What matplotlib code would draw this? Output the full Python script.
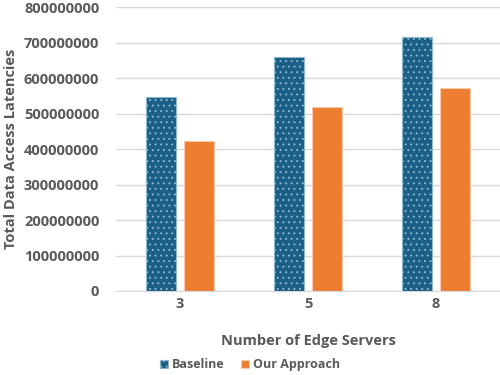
import matplotlib.pyplot as plt
import numpy as np

plt.rcParams['font.family'] = ['Open Sans', 'DejaVu Sans']
plt.rcParams['hatch.linewidth'] = 0.7

servers = ['3', '5', '8']
baseline = [546000000, 659000000, 715000000]
ours = [422000000, 519000000, 572000000]

grey = '#595959'
x = np.arange(len(servers))
w = 0.234

fig = plt.figure(figsize=(5, 3.75), dpi=100)
ax = fig.add_axes([0.232, 0.224, 0.768, 0.757])

ax.bar(x - 0.145, baseline, w, color='#1C5F86', edgecolor='#8DB6CF',
       linewidth=0.8, hatch='...', label='Baseline', zorder=3)
ax.bar(x + 0.145, ours, w, color='#ED7D31', edgecolor='#F8C9A8',
       linewidth=0.8, label='Our Approach', zorder=3)

ax.set_xlim(-0.5, 2.5)
ax.set_ylim(0, 800000000)
ax.set_yticks(np.arange(0, 800000001, 100000000))
ax.set_yticklabels([str(v) for v in range(0, 800000001, 100000000)])
ax.set_xticks(x)
ax.set_xticklabels(servers)
ax.yaxis.grid(True, color='#D9D9D9', linewidth=1, zorder=0)
ax.set_axisbelow(True)
for s in ['top', 'right', 'left']:
    ax.spines[s].set_visible(False)
ax.spines['bottom'].set_color('#D9D9D9')
ax.tick_params(length=0, labelsize=10.5, labelcolor=grey)
ax.tick_params(axis='y', pad=12)
ax.tick_params(axis='x', pad=4)
for lab in ax.get_xticklabels() + ax.get_yticklabels():
    lab.set_fontweight('bold')

ax.set_xlabel('Number of Edge Servers', fontsize=10.5, color=grey,
              fontweight='bold', labelpad=17)
ax.set_ylabel('Total Data Access Latencies', fontsize=10.5, color=grey,
              fontweight='bold', labelpad=4)

fig.legend(loc='center', bbox_to_anchor=(0.5, 0.027), ncol=2, frameon=False,
           handlelength=0.65, handleheight=0.65, columnspacing=1.3,
           handletextpad=0.35, prop={'size': 9, 'weight': 'bold'},
           labelcolor=grey)

fig.savefig('out.png', dpi=100)
